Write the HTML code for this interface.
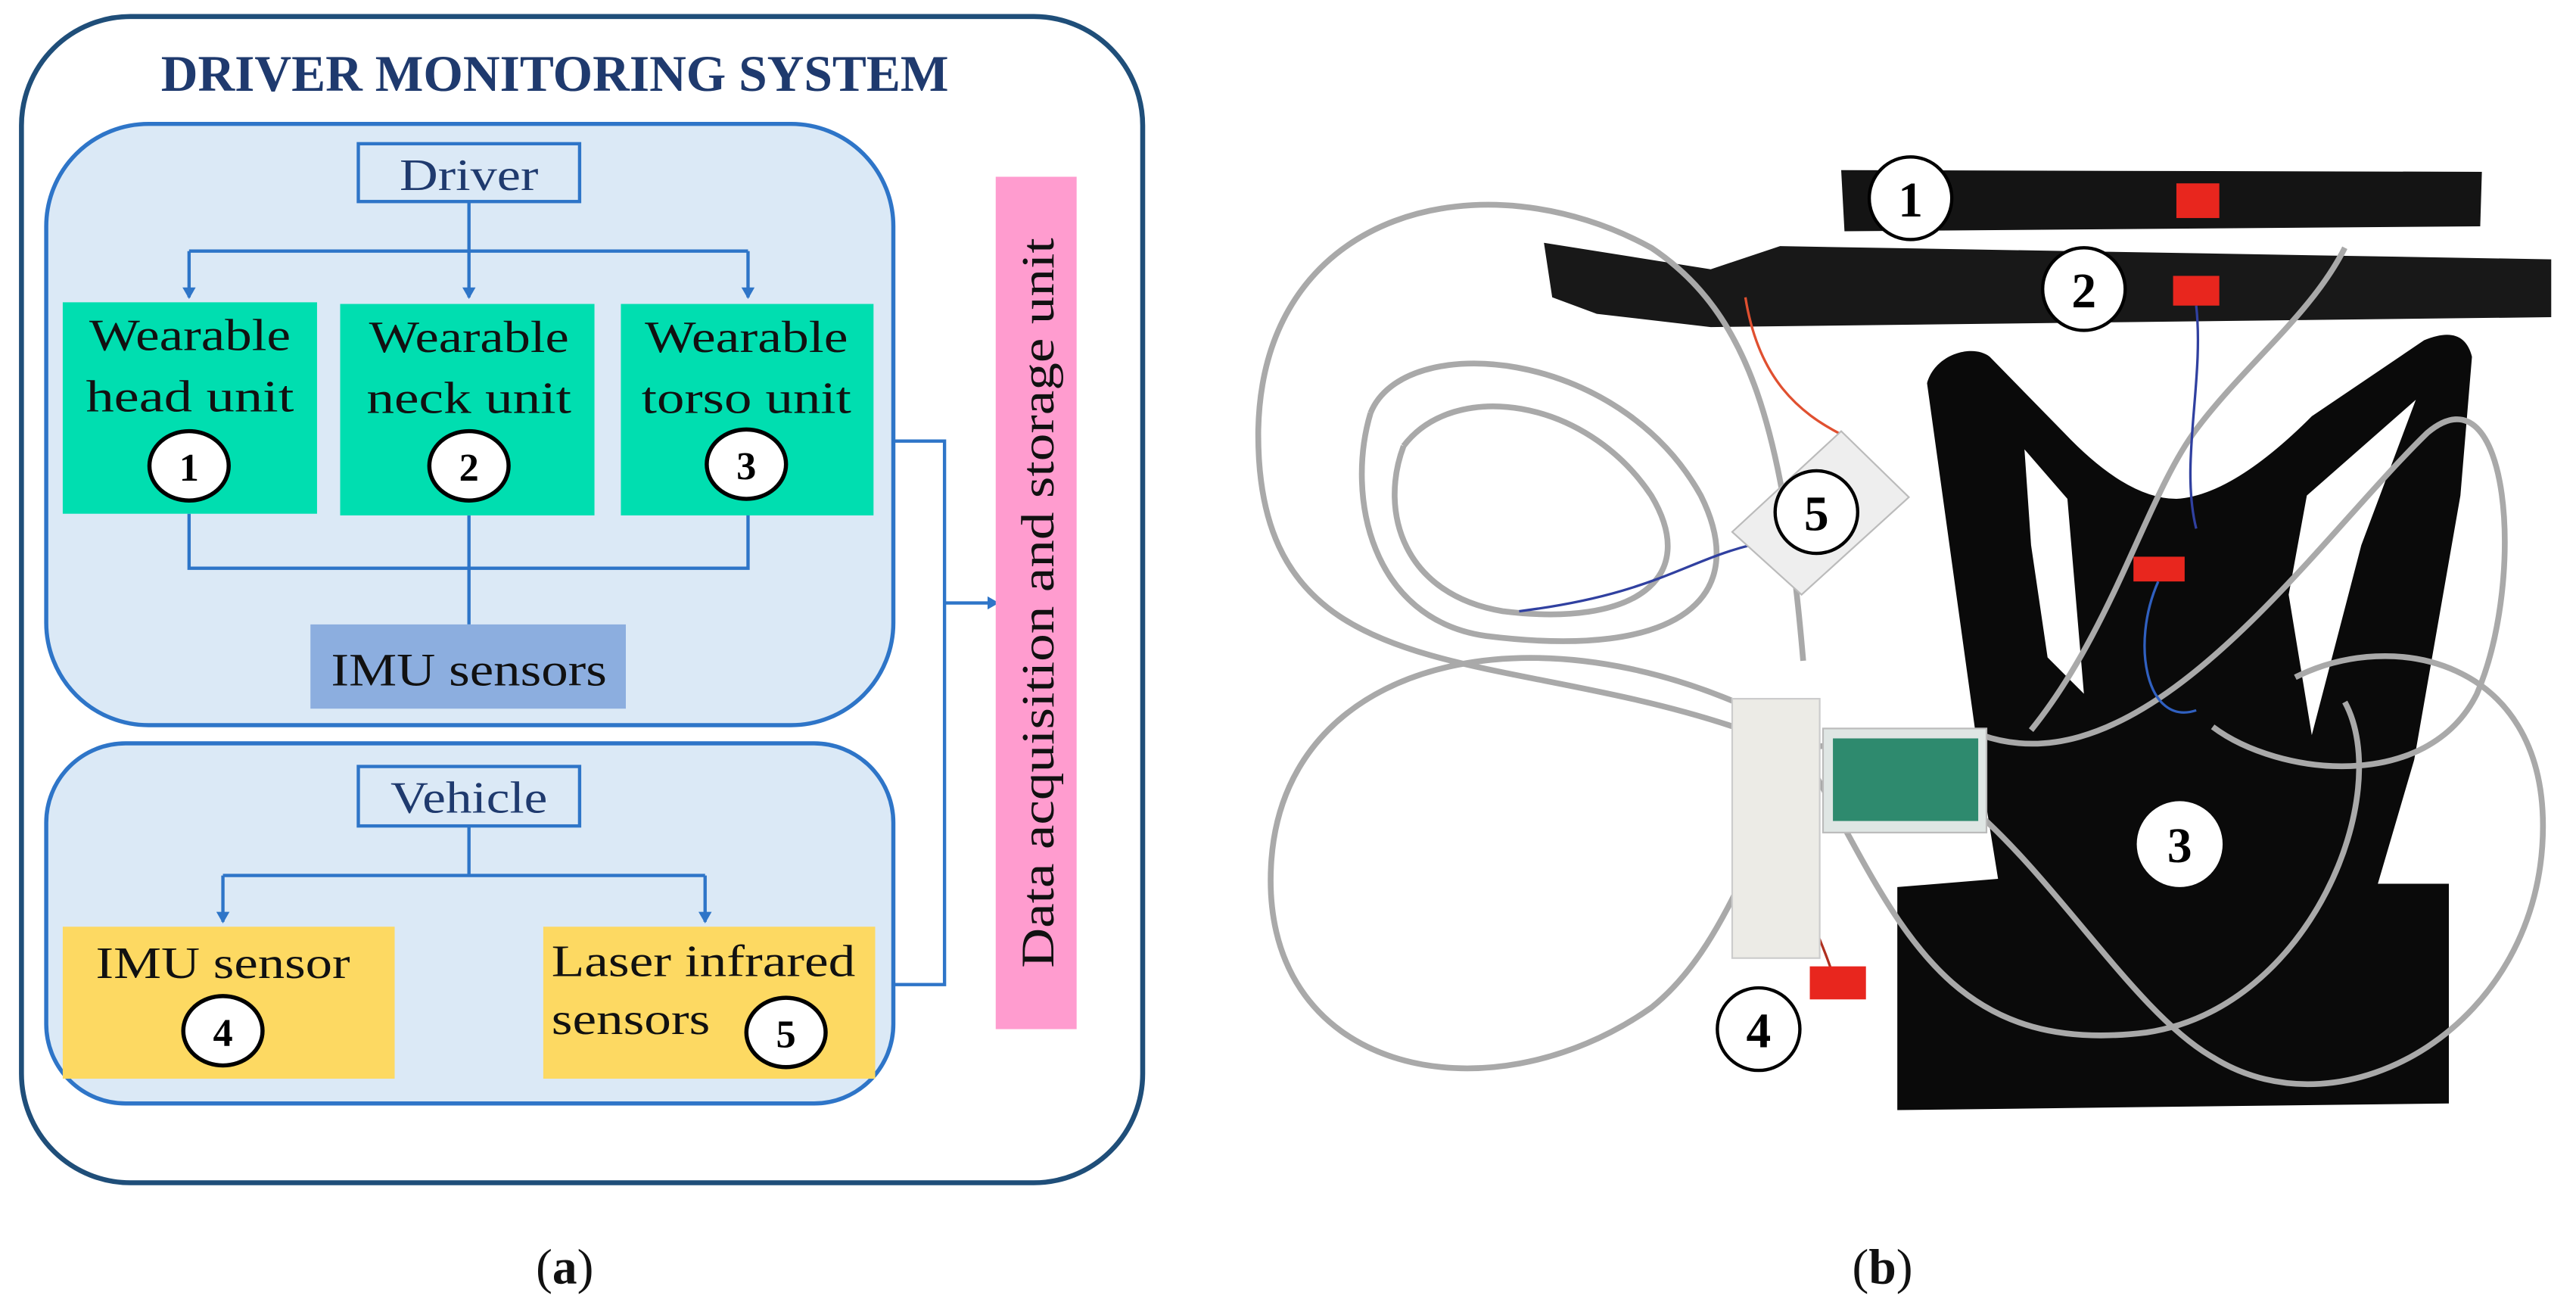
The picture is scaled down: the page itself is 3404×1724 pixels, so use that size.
<!DOCTYPE html>
<html><head><meta charset="utf-8"><style>
html,body{margin:0;padding:0;background:#fff;}
svg{display:block;}
text{font-family:"Liberation Serif",serif;}
</style></head><body>
<svg width="3404" height="1724" viewBox="0 0 1560 790" preserveAspectRatio="none" xmlns="http://www.w3.org/2000/svg">
<defs>
<marker id="ar" markerWidth="8" markerHeight="8" refX="6" refY="4" orient="auto" markerUnits="userSpaceOnUse">
<path d="M0,0 L7,4 L0,8 Z" fill="#2e75c8"/></marker>
</defs>
<rect width="1560" height="790" fill="#fff"/>
<!-- outer -->
<rect x="13" y="10" width="679" height="706" rx="66" ry="66" fill="#fff" stroke="#1f4e79" stroke-width="3"/>
<text x="336" y="55" font-size="31" font-weight="bold" fill="#1f3a6e" text-anchor="middle" textLength="477" lengthAdjust="spacingAndGlyphs">DRIVER MONITORING SYSTEM</text>
<!-- driver panel -->
<rect x="28" y="75" width="513" height="364" rx="62" ry="62" fill="#dbe9f6" stroke="#2e75c8" stroke-width="2.5"/>
<rect x="217" y="87" width="134" height="35" fill="#dbe9f6" stroke="#2e75c8" stroke-width="2"/>
<text x="284" y="115" font-size="27" fill="#1f3a6e" text-anchor="middle" textLength="84" lengthAdjust="spacingAndGlyphs">Driver</text>
<g stroke="#2e75c8" stroke-width="2" fill="none">
<path d="M284,122 V180" marker-end="url(#ar)"/>
<path d="M114.5,152 H453"/>
<path d="M114.5,152 V180" marker-end="url(#ar)"/>
<path d="M453,152 V180" marker-end="url(#ar)"/>
<path d="M114.5,311 V344 H453 V311 M284,312 V378"/>
</g>
<rect x="38" y="183" width="154" height="128" fill="#00deb0"/>
<rect x="206" y="184" width="154" height="128" fill="#00deb0"/>
<rect x="376" y="184" width="153" height="128" fill="#00deb0"/>
<g font-size="27" fill="#111" text-anchor="middle">
<text x="115" y="212" textLength="122" lengthAdjust="spacingAndGlyphs">Wearable</text>
<text x="115" y="249" textLength="126" lengthAdjust="spacingAndGlyphs">head unit</text>
<text x="284" y="213" textLength="121" lengthAdjust="spacingAndGlyphs">Wearable</text>
<text x="284" y="250" textLength="124" lengthAdjust="spacingAndGlyphs">neck unit</text>
<text x="452" y="213" textLength="123" lengthAdjust="spacingAndGlyphs">Wearable</text>
<text x="452" y="250" textLength="127" lengthAdjust="spacingAndGlyphs">torso unit</text>
</g>
<rect x="188" y="378" width="191" height="51" fill="#8caedf"/>
<text x="284" y="415" font-size="28" fill="#111" text-anchor="middle" textLength="167" lengthAdjust="spacingAndGlyphs">IMU sensors</text>
<!-- vehicle panel -->
<rect x="28" y="450" width="513" height="218" rx="48" ry="48" fill="#dbe9f6" stroke="#2e75c8" stroke-width="2.5"/>
<rect x="217" y="464" width="134" height="36" fill="#dbe9f6" stroke="#2e75c8" stroke-width="2"/>
<text x="284" y="492" font-size="27" fill="#1f3a6e" text-anchor="middle" textLength="95" lengthAdjust="spacingAndGlyphs">Vehicle</text>
<g stroke="#2e75c8" stroke-width="2" fill="none">
<path d="M284,500 V530 M135,530 H427"/>
<path d="M135,530 V558" marker-end="url(#ar)"/>
<path d="M427,530 V558" marker-end="url(#ar)"/>
<path d="M541,267 H572 V596 H541"/>
<path d="M572,365 H604" marker-end="url(#ar)"/>
</g>
<rect x="38" y="561" width="201" height="92" fill="#fdd962"/>
<rect x="329" y="561" width="201" height="92" fill="#fdd962"/>
<g font-size="27" fill="#111">
<text x="58" y="592" textLength="154" lengthAdjust="spacingAndGlyphs">IMU sensor</text>
<text x="334" y="591" textLength="184" lengthAdjust="spacingAndGlyphs">Laser infrared</text>
<text x="334" y="626" textLength="96" lengthAdjust="spacingAndGlyphs">sensors</text>
</g>
<g fill="#fff" stroke="#000" stroke-width="2.5">
<ellipse cx="114.5" cy="282" rx="24" ry="21"/>
<ellipse cx="284" cy="282" rx="24" ry="21"/>
<ellipse cx="452" cy="281" rx="24" ry="21"/>
<ellipse cx="135" cy="624" rx="24" ry="21"/>
<ellipse cx="476" cy="625" rx="24" ry="21"/>
</g>
<g font-size="24" font-weight="bold" fill="#000" text-anchor="middle">
<text x="114.5" y="291">1</text><text x="284" y="291">2</text><text x="452" y="290">3</text>
<text x="135" y="633">4</text><text x="476" y="634">5</text>
</g>
<rect x="603" y="107" width="49" height="516" fill="#ff9ccf"/>
<text transform="translate(638,365) rotate(-90)" font-size="28" fill="#111" text-anchor="middle" textLength="442" lengthAdjust="spacingAndGlyphs">Data acquisition and storage unit</text>
<text x="342" y="777" font-size="30" fill="#111" text-anchor="middle">(<tspan font-weight="bold">a</tspan>)</text>
<text x="1140" y="777" font-size="30" fill="#111" text-anchor="middle">(<tspan font-weight="bold">b</tspan>)</text>

<!-- photo (b) -->
<polygon points="1115,103 1503,104 1502,137 1117,140" fill="#141414"/>
<path d="M935,147 L1036,163 L1078,149 L1545,157 L1545,192 L1036,198 L967,190 L940,180 Z" fill="#181818"/>
<path d="M1167,232 C1172,214 1195,208 1205,216 L1250,262 Q1288,302 1318,302 Q1352,300 1400,252 L1468,206 Q1492,196 1497,216 L1490,300 L1462,460 L1440,535 L1483,535 L1483,668 L1149,672 L1149,537 L1210,532 L1200,470 Z" fill="#0a0a0a"/>
<polygon points="1226,272 1252,302 1262,420 1240,398 1230,330" fill="#fff"/>
<polygon points="1463,242 1397,300 1386,360 1400,445 1430,330" fill="#fff"/>
<!-- cables -->
<g fill="none" stroke="#a9a9a9" stroke-width="3.5">
<path d="M1050,440 C900,390 760,420 762,260 C765,125 900,95 1000,150 C1060,190 1080,260 1092,400"/>
<path d="M1100,450 C950,360 780,390 770,520 C760,650 900,680 1000,610 C1050,570 1060,500 1100,460"/>
<path d="M830,250 C850,200 980,210 1030,300 C1060,360 1020,400 900,385 C830,375 815,300 830,250"/>
<path d="M850,270 C880,230 960,240 1000,300 C1030,350 990,380 910,370 C850,360 835,310 850,270"/>
<path d="M1200,445 C1300,480 1400,330 1470,262 C1520,220 1530,350 1500,420 C1470,480 1380,470 1340,440"/>
<path d="M1100,452 C1200,440 1270,600 1340,640 C1420,690 1540,620 1540,500 C1540,400 1450,380 1390,410"/>
<path d="M1100,470 C1150,560 1180,640 1300,625 C1400,610 1450,480 1420,425"/>
<path d="M1230,442 C1280,380 1300,300 1330,260 C1360,220 1400,190 1420,150"/>
</g>
<g fill="none" stroke-width="1.5">
<path d="M1057,180 C1065,230 1090,250 1115,263" stroke="#e05030"/>
<path d="M1330,185 C1335,230 1320,280 1330,320" stroke="#3040a0"/>
<path d="M1307,352 C1290,390 1300,440 1330,430" stroke="#3060c0"/>
<path d="M1060,330 C1020,340 1000,360 920,370" stroke="#3040a0"/>
<path d="M1065,490 C1080,520 1100,560 1110,590" stroke="#b03020"/>
</g>
<polygon points="1049,322 1115,261 1156,301 1091,360" fill="#eeeeee" stroke="#bbb" stroke-width="1"/>
<rect x="1049" y="423" width="53" height="157" fill="#ecebe6" stroke="#ccc" stroke-width="1"/>
<rect x="1104" y="441" width="99" height="63" fill="#dfe6e4" stroke="#bbb" stroke-width="1"/>
<rect x="1110" y="447" width="88" height="50" fill="#2e8a6e"/>
<g fill="#e8261e">
<rect x="1318" y="111" width="26" height="21"/>
<rect x="1316" y="167" width="28" height="18"/>
<rect x="1292" y="337" width="31" height="15"/>
<rect x="1096" y="585" width="34" height="20"/>
</g>
<g fill="#fff" stroke="#000" stroke-width="2">
<circle cx="1157" cy="120" r="25"/>
<circle cx="1262" cy="175" r="25"/>
<circle cx="1100" cy="310" r="25"/>
<circle cx="1320" cy="511" r="26" stroke="none"/>
<circle cx="1065" cy="623" r="25"/>
</g>
<g font-size="30" font-weight="bold" fill="#000" text-anchor="middle">
<text x="1157" y="131">1</text><text x="1262" y="186">2</text><text x="1100" y="321">5</text>
<text x="1320" y="522">3</text><text x="1065" y="634">4</text>
</g>
</svg>
</body></html>
